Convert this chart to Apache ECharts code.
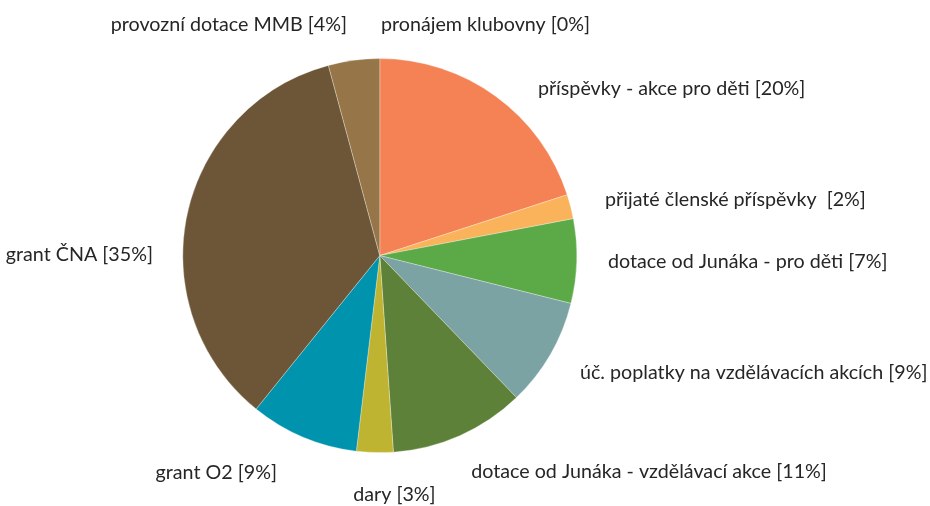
<!DOCTYPE html>
<html>
<head>
<meta charset="utf-8">
<script src="https://cdn.jsdelivr.net/npm/echarts@6/dist/echarts.min.js"></script>
<style>
html,body{margin:0;padding:0;background:#fff;}
#chart{width:930px;height:506px;}
</style>
</head>
<body>
<div id="chart"></div>
<script>
// ---- data ----
var categories = [
  'pronájem klubovny',
  'příspěvky - akce pro děti',
  'přijaté členské příspěvky ',
  'dotace od Junáka - pro děti',
  'úč. poplatky na vzdělávacích akcích',
  'dotace od Junáka - vzdělávací akce',
  'dary',
  'grant O2',
  'grant ČNA',
  'provozní dotace MMB'
];
var values = [0, 20.0, 2.0, 6.9, 8.9, 11.1, 3.0, 8.9, 35.0, 4.2];
var colors = ['#F48254', '#F48254', '#FBB35B', '#5CAA47', '#7BA3A3', '#5E8139', '#BFB432', '#0093AD', '#6D5637', '#967548'];

// ---- label placement (polar: angle from 12 o'clock clockwise, distance from centre in px, alignment) ----
var labelAngle = [0.3, 43.5, 76.1, 91.6, 120.4, 157.1, 176.5, 205.3, 270.2, 351.9];
var labelDist  = [230.6, 229.7, 232, 228.3, 232.1, 234.8, 239.8, 240.5, 226.8, 232.9];
var labelAlign = ['left','left','left','left','left','left','center','right','right','right'];

var CX = 379.8, CY = 255.6, R = 197;

var chart = echarts.init(document.getElementById('chart'), null, {renderer: 'canvas'});
var data = categories.map(function (c, i) {
  return { name: c, value: values[i], itemStyle: { color: colors[i] } };
});

chart.setOption({
  animation: false,
  backgroundColor: '#ffffff',
  series: [{
    type: 'pie',
    center: [CX, CY],
    radius: [0, R],
    startAngle: 90,
    clockwise: true,
    percentPrecision: 0,
    avoidLabelOverlap: false,
    data: data,
    itemStyle: { borderColor: '#ffffff', borderWidth: 0.3 },
    label: {
      show: true,
      position: 'outside',
      formatter: '{b} [{d}%]',
      fontFamily: 'Lato',
      fontSize: 19.7,
      color: '#262626'
    },
    labelLine: { show: false },
    labelLayout: function (p) {
      var i = p.dataIndex;
      var a = labelAngle[i] * Math.PI / 180;
      return {
        x: CX + labelDist[i] * Math.sin(a),
        y: CY - labelDist[i] * Math.cos(a),
        align: labelAlign[i],
        verticalAlign: 'middle'
      };
    },
    emphasis: { disabled: true }
  }]
});
</script>
</body>
</html>
